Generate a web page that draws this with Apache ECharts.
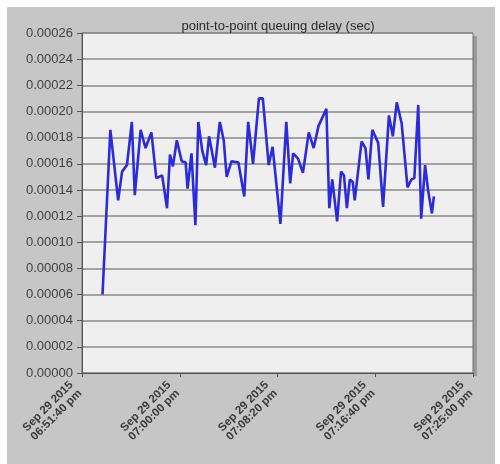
<!DOCTYPE html>
<html>
<head>
<meta charset="utf-8">
<style>
  html, body { margin: 0; padding: 0; background: #ffffff; }
  #chart { width: 500px; height: 464px; }
</style>
<script src="https://cdn.jsdelivr.net/npm/echarts@6/dist/echarts.min.js"></script>
</head>
<body>
<div id="chart"></div>
<script>
// Seconds elapsed since Sep 29 2015 06:51:40 pm
const sampleTimes = [105,145,185,205,230,255,270,300,325,355,380,410,435,450,465,485,510,530,540,560,
  580,595,615,635,650,680,705,725,740,765,800,830,850,875,905,925,955,975,1015,1045,
  1065,1080,1105,1130,1160,1185,1210,1250,1265,1280,1305,1325,1340,1355,1370,1385,1395,1430,1450,1465,
  1485,1515,1540,1570,1590,1610,1635,1665,1685,1700,1720,1735,1755,1770,1790,1800];

// Point-to-point queuing delay, seconds
const queuingDelay = [0.000060,0.000186,0.000132,0.000154,0.000159,0.000192,0.000136,0.000186,0.000172,0.000184,
  0.000149,0.000151,0.000126,0.000167,0.000158,0.000178,0.000162,0.000161,0.000141,0.000168,
  0.000113,0.000192,0.000170,0.000159,0.000181,0.000157,0.000192,0.000178,0.000150,0.000162,
  0.000161,0.000135,0.000192,0.000160,0.000210,0.000210,0.000159,0.000173,0.000114,0.000192,
  0.000145,0.000168,0.000164,0.000153,0.000184,0.000172,0.000189,0.000202,0.000126,0.000148,
  0.000116,0.000154,0.000151,0.000126,0.000148,0.000146,0.000132,0.000177,0.000172,0.000148,
  0.000186,0.000176,0.000127,0.000197,0.000181,0.000207,0.000191,0.000142,0.000148,0.000149,
  0.000205,0.000118,0.000159,0.000140,0.000122,0.000135];

// X tick labels every 500 s
const tickDate = 'Sep 29 2015';
const tickTimes = ['06:51:40 pm', '07:00:00 pm', '07:08:20 pm', '07:16:40 pm', '07:25:00 pm'];

const chartTitle = 'point-to-point queuing delay (sec)';

const chart = echarts.init(document.getElementById('chart'), null, { renderer: 'canvas' });

chart.setOption({
  backgroundColor: '#ffffff',
  animation: false,
  graphic: {
    elements: [
      {
        type: 'rect', z: -100, silent: true,
        shape: { x: 7, y: 7, width: 488, height: 457 },
        style: { fill: '#c6c6c6' }
      },
      {
        type: 'rect', z: -90, silent: true,
        shape: { x: 473, y: 36, width: 4, height: 340 },
        style: { fill: '#9a9a9a' }
      }
    ]
  },
  title: {
    text: chartTitle,
    left: 273, top: 15, textAlign: 'center',
    textStyle: { fontFamily: 'Liberation Sans', fontSize: 13, fontWeight: 'normal', color: '#2a2a2a' }
  },
  grid: {
    left: 82, right: 27, top: 33, bottom: 91,
    show: true, backgroundColor: '#efefef', borderColor: '#6e6e6e', borderWidth: 1
  },
  xAxis: {
    type: 'value', min: 0, max: 2000, interval: 500,
    axisLine: { show: true, lineStyle: { color: '#555', width: 1 } },
    axisTick: { show: true, length: 4, lineStyle: { color: '#555' } },
    splitLine: { show: false },
    axisLabel: {
      rotate: 45, margin: 8, padding: [0, 9, 0, 0],
      fontFamily: 'Liberation Sans', fontSize: 11.5, fontWeight: 'bold', color: '#3a3a3a', lineHeight: 12,
      formatter: v => tickDate + '\n' + tickTimes[Math.round(v / 500)]
    }
  },
  yAxis: {
    type: 'value', min: 0, max: 0.00026, interval: 0.00002,
    axisLine: { show: true, lineStyle: { color: '#555', width: 1 } },
    axisTick: { show: true, length: 5, lineStyle: { color: '#555' } },
    splitLine: { show: true, lineStyle: { color: '#8a8a8a', width: 1.5 } },
    axisLabel: {
      margin: 9,
      fontFamily: 'Liberation Sans', fontSize: 13, color: '#404040',
      formatter: v => v.toFixed(5)
    }
  },
  series: [{
    type: 'line',
    data: sampleTimes.map((t, i) => [t, queuingDelay[i]]),
    showSymbol: false,
    lineStyle: { color: '#2b2bdc', width: 2.6 },
    itemStyle: { color: '#2b2bdc' }
  }]
});
</script>
</body>
</html>
